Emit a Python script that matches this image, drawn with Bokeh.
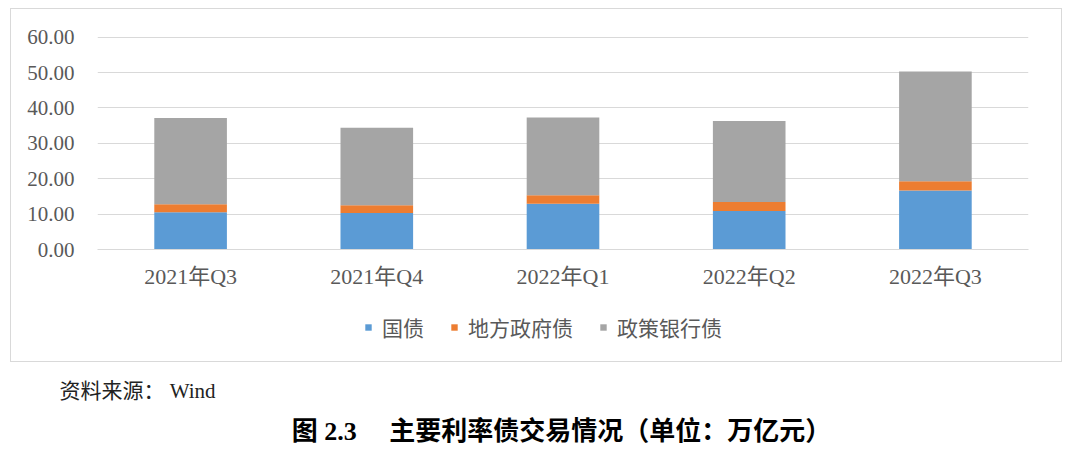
from bokeh.plotting import figure
from bokeh.layouts import column
from bokeh.models import Legend, LegendItem, Label, FixedTicker, PrintfTickFormatter, Range1d, FactorRange
from bokeh.embed import file_html
from bokeh.resources import INLINE

quarters = ["2021年Q3", "2021年Q4", "2022年Q1", "2022年Q2", "2022年Q3"]
guozhai = [10.5, 10.3, 12.9, 10.9, 16.7]
difang = [2.3, 2.2, 2.4, 2.5, 2.6]
zhengce = [24.4, 21.9, 22.0, 22.9, 31.0]
series = ["国债", "地方政府债", "政策银行债"]
colors = ["#5B9BD5", "#ED7D31", "#A5A5A5"]
yticks = [0, 10, 20, 30, 40, 50, 60]
source_note = "资料来源： Wind"
caption = "图 2.3　 主要利率债交易情况（单位：万亿元）"

data = {"q": quarters, series[0]: guozhai, series[1]: difang, series[2]: zhengce}

SERIF = "'Liberation Serif', 'Noto Sans CJK SC'"
CJK = "'Noto Sans CJK SC'"

# main chart
p = figure(x_range=quarters, y_range=Range1d(0, 60.2), width=1050, height=300,
           output_backend="svg", toolbar_location=None,
           min_border_left=86, min_border_right=33, min_border_top=27, min_border_bottom=60)

rs = p.vbar_stack(series, x="q", width=0.39, color=colors, source=data, line_color=None)

p.outline_line_color = None
p.xgrid.grid_line_color = None
p.ygrid.grid_line_color = "#d9d9d9"
p.ygrid.grid_line_width = 1

p.yaxis.ticker = FixedTicker(ticks=yticks)
p.yaxis.formatter = PrintfTickFormatter(format="%.2f")
p.yaxis.axis_line_color = None
p.yaxis.major_tick_line_color = None
p.yaxis.minor_tick_line_color = None
p.yaxis.major_label_standoff = 17
p.yaxis.major_label_text_font = SERIF
p.yaxis.major_label_text_font_size = "21px"
p.yaxis.major_label_text_color = "#595959"

p.xaxis.axis_line_color = "#d9d9d9"
p.xaxis.major_tick_line_color = None
p.xaxis.minor_tick_line_color = None
p.xaxis.major_label_standoff = 8
p.xaxis.major_label_text_font = SERIF
p.xaxis.major_label_text_font_size = "22px"
p.xaxis.major_label_text_color = "#595959"

# legend strip (inside the bordered chart area); its renderers are hidden copies
pl = figure(width=1050, height=52, x_range=FactorRange(*quarters), y_range=Range1d(0, 52),
            output_backend="svg", toolbar_location=None,
            x_axis_location=None, y_axis_location=None,
            min_border_left=0, min_border_right=0, min_border_top=0, min_border_bottom=0)
pl.grid.visible = False
pl.outline_line_color = None
swatches = pl.vbar_stack(series, x="q", width=0.39, color=colors, source=data,
                         line_color=None, visible=False)
legend = Legend(items=[LegendItem(label=s, renderers=[r]) for s, r in zip(series, swatches)],
                orientation="horizontal", location=(267, 19),
                glyph_width=8, glyph_height=8, label_standoff=10, spacing=26,
                label_text_font=CJK, label_text_font_size="21px",
                label_text_color="#595959", border_line_color=None,
                background_fill_alpha=0, margin=0, padding=0,
                inactive_fill_alpha=0)
pl.add_layout(legend, "center")

chart = column(p, pl, spacing=0, margin=(1, 0, 0, 3),
               styles={"border": "1px solid #d9d9d9"})

# source note and caption
pc = figure(width=1064, height=86, x_range=Range1d(0, 1064), y_range=Range1d(0, 86),
            output_backend="svg", toolbar_location=None,
            x_axis_location=None, y_axis_location=None,
            min_border_left=0, min_border_right=0, min_border_top=0, min_border_bottom=0)
pc.grid.visible = False
pc.outline_line_color = None
pc.add_layout(Label(text=source_note, x=52, y=58, text_font=SERIF, text_font_size="21px",
                    text_color="#222222", text_baseline="middle", text_align="left"))
pc.add_layout(Label(text=caption, x=554, y=17, text_font=SERIF, text_font_size="26px",
                    text_font_style="bold", text_color="#000000",
                    text_baseline="middle", text_align="center"))

layout = column(chart, pc, spacing=0, margin=(7, 0, 0, 7))
open("out.html", "w").write(file_html(layout, INLINE))
